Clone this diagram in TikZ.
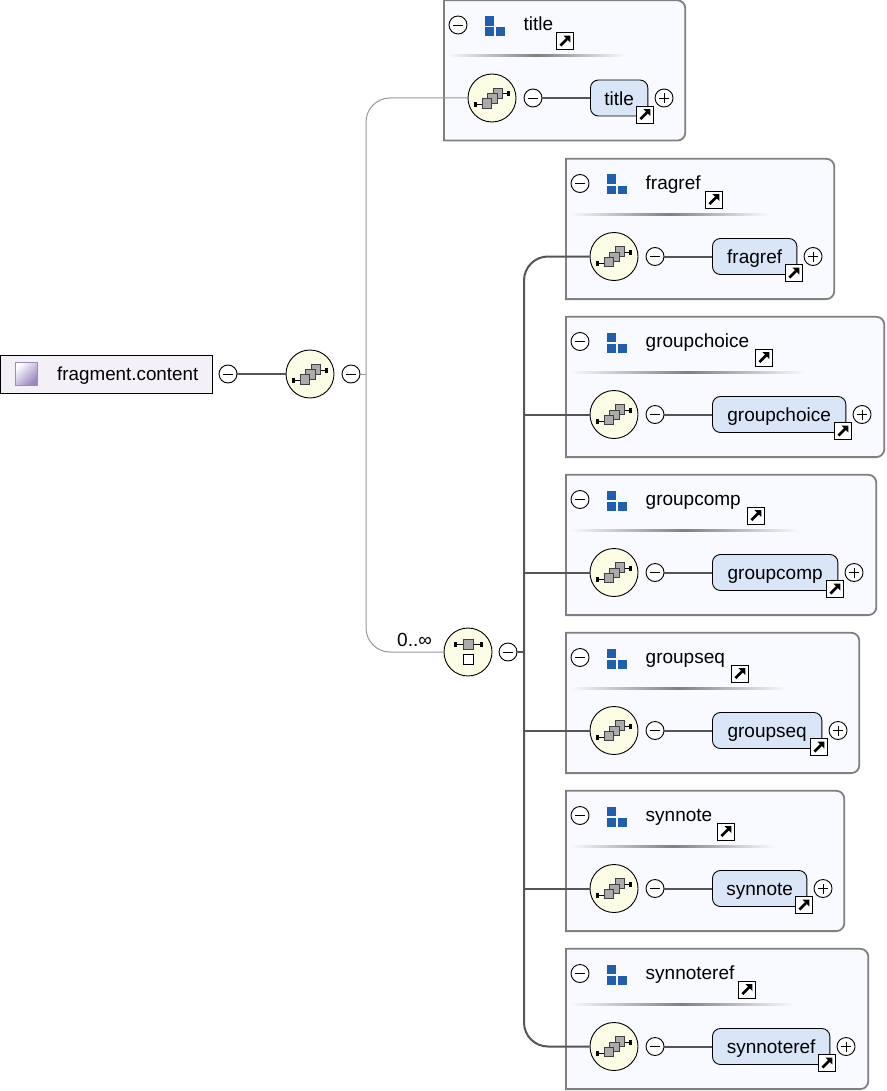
\documentclass[tikz,border=0pt]{standalone}
\usepackage{fontspec}
\setmainfont{Liberation Sans}
\definecolor{boxfill}{HTML}{F8FAFF}
\definecolor{boxline}{HTML}{808080}
\definecolor{elfill}{HTML}{D9E6F8}
\definecolor{circfill}{HTML}{FDFDE6}
\definecolor{conn}{HTML}{555555}
\definecolor{thinconn}{HTML}{999999}
\definecolor{blueicon}{HTML}{1F5FAD}
\definecolor{rootfill}{HTML}{F4F0F8}
\definecolor{rootpurple}{HTML}{9C88C0}
\definecolor{greysq}{HTML}{ABABAB}
\tikzset{
  diagramtext/.style={font=\fontsize{19}{20}\selectfont, inner sep=0pt},
  fragframe/.style={draw=boxline, line width=1.8pt, fill=boxfill},
  elementbox/.style={draw=black, line width=0.9pt, fill=elfill, rounded corners=8pt, minimum height=36pt, inner sep=0pt, text height=14.5pt, text depth=0pt, font=\fontsize{19}{20}\selectfont},
  compcircle/.style={circle, draw=black, line width=0.9pt, fill=circfill, minimum size=48pt, inner sep=0pt},
  btn/.style={circle, draw=black, line width=0.9pt, fill=white, minimum size=18pt, inner sep=0pt},
  signline/.style={draw=black, line width=0.9pt},
  linkbox/.style={rectangle, draw=black, line width=0.9pt, fill=white, minimum size=17pt, inner sep=0pt},
  strongconn/.style={draw=conn, line width=2pt},
  weakconn/.style={draw=thinconn, line width=1pt},
  greybit/.style={draw=black!75, line width=0.6pt, fill=greysq},
  stub/.style={draw=black, line width=1pt},
}
\newcommand{\minusbtn}[2]{%
  \node[btn] (#1) at (#2) {};
  \draw[signline] ([xshift=-5pt]#1.center) -- ([xshift=5pt]#1.center);}
\newcommand{\plusbtn}[2]{%
  \node[btn] (#1) at (#2) {};
  \draw[signline] ([xshift=-5pt]#1.center) -- ([xshift=5pt]#1.center);
  \draw[signline] ([yshift=-5pt]#1.center) -- ([yshift=5pt]#1.center);}
\newcommand{\linkicon}[2]{%
  \node[linkbox] (#1) at (#2) {};
  \begin{scope}[shift={(#1.center)}]
    \draw[black, line width=2.6pt] (-4.6,4.6) -- (2,-2);
    \fill[black] (5.4,-5.4) -- (-1.6,-5.4) -- (5.4,1.6) -- cycle;
  \end{scope}}
\newcommand{\seqicon}[1]{%
  \begin{scope}[shift={(#1.center)}]
    \draw[stub] (-17,6.5) -- (-10,6.5);
    \draw[stub] (10,-4) -- (17,-4);
    \fill[black] (-18,4) rectangle (-15,9);
    \fill[black] (15,-6.5) rectangle (18,-1.5);
    \draw[greybit] (1,-10) rectangle (10.5,0);
    \draw[greybit] (-4.5,-4.5) rectangle (5,5);
    \draw[greybit] (-10,0.5) rectangle (-0.5,10);
  \end{scope}}
\newcommand{\choiceicon}[1]{%
  \begin{scope}[shift={(#1.center)}]
    \draw[stub] (-13,-8) -- (13,-8);
    \fill[black] (-14.5,-10.5) rectangle (-11.5,-5.5);
    \fill[black] (11.5,-10.5) rectangle (14.5,-5.5);
    \draw[greybit] (-5,-13) rectangle (5,-3);
    \draw[draw=black, line width=0.7pt, fill=white] (-5,2) rectangle (5,12);
  \end{scope}}
% #1 id, #2 dx, #3 dy, #4 frame width, #5 label, #6 header link x, #7 element right
\newcommand{\fragunit}[7]{%
  \begin{scope}[shift={(#2,#3)}]
    \path[fragframe] (0,0.3) [rounded corners=8pt] -- (#4-0.7,0.3) -- (#4-0.7,140.6) [sharp corners] -- (0,140.6) -- cycle;
    \minusbtn{#1hm}{14,25}
    \fill[blueicon] (41,16) rectangle (50,25.7);
    \fill[blueicon] (41,27.5) rectangle (50,36);
    \fill[blueicon] (52,27.5) rectangle (61,36);
    \node[diagramtext, anchor=base west] (#1title) at (79.5,31) {#5};
    \linkicon{#1hl}{#6,41}
    \shade[left color=boxfill, right color=boxfill, middle color=black!50] (4,55) rectangle (#4*0.75,57);
    \node[compcircle] (#1seq) at (48,98) {};
    \seqicon{#1seq}
    \minusbtn{#1m}{89,98}
    \node[elementbox, minimum width=#7pt-146.6pt, anchor=west] (#1el) at (146,98) {#5};
    \draw[strongconn] (#1m.east) -- (#1el.west);
    \linkicon{#1ell}{#7-3,114.5}
    \plusbtn{#1p}{#7+16,98}
  \end{scope}}
\begin{document}
\begin{tikzpicture}[x=1pt,y=-1pt]
\useasboundingbox (0,0) rectangle (886,1091);
\fill[white] (0,0) rectangle (886,1091);
% root
\node[draw=black, line width=0.9pt, fill=rootfill, minimum width=212.5pt, minimum height=38pt, inner sep=0pt] (root) at (106.5,374) {};
\shade[top color=white, bottom color=rootpurple, shading angle=45] (15,362) rectangle (37,385);
\draw[rootpurple, line width=0.8pt] (15,362) rectangle (37,385);
\node[diagramtext, font=\fontsize{18.8}{20}\selectfont, anchor=base west] (rootlabel) at (57,380.7) {fragment.content};
\minusbtn{rootm}{228,374}
\node[compcircle] (rootseq) at (310,374) {};
\seqicon{rootseq}
\minusbtn{rootn}{351,374}
\draw[strongconn] (rootm.east) -- (rootseq.west);
% choice
\node[compcircle] (choice) at (468,652) {};
\choiceicon{choice}
\minusbtn{choicem}{508,652}
\node[diagramtext, anchor=base west] (mult) at (397,646) {0..∞};
% units
\fragunit{ti}{444}{0}{242}{title}{121}{204}
\fragunit{fr}{566}{158.5}{269}{fragref}{148}{231}
\fragunit{gc}{566}{316.5}{319}{groupchoice}{198}{280}
\fragunit{gm}{566}{474.5}{311}{groupcomp}{190}{272}
\fragunit{gs}{566}{632.5}{294}{groupseq}{174}{256}
\fragunit{sn}{566}{790.5}{279}{synnote}{160}{241}
\fragunit{sr}{566}{948.5}{303}{synnoteref}{181}{264}
% connectors
\coordinate (jt) at (366,98);
\coordinate (jb) at (366,652);
\coordinate (jm) at (366,374);
\coordinate (st) at (524,256.5);
\coordinate (sb) at (524,1046.5);
\coordinate (s2) at (524,414.5);
\coordinate (s3) at (524,572.5);
\coordinate (s4) at (524,730.5);
\coordinate (s5) at (524,888.5);
\coordinate (sc) at (524,652);
\draw[weakconn, rounded corners=24pt] (tiseq.west) -- (jt) -- (jb) -- (choice.west);
\draw[weakconn] (rootn.east) -- (jm);
\draw[strongconn, rounded corners=24pt] (frseq.west) -- (st) -- (sb) -- (srseq.west);
\draw[strongconn] (s2) -- (gcseq.west);
\draw[strongconn] (s3) -- (gmseq.west);
\draw[strongconn] (s4) -- (gsseq.west);
\draw[strongconn] (s5) -- (snseq.west);
\draw[strongconn] (choicem.east) -- (sc);
\end{tikzpicture}
\end{document}
